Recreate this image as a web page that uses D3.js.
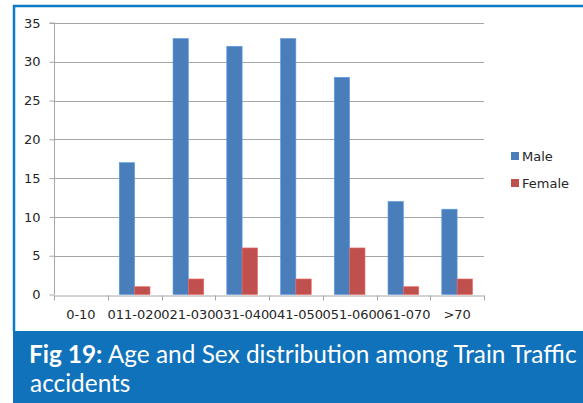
<!DOCTYPE html>
<html><head><meta charset="utf-8">
<script src="https://cdn.jsdelivr.net/npm/d3@7"></script>
<style>html,body{margin:0;padding:0;background:#fff;}svg{display:block;}</style>
</head><body>
<svg id="c" width="583" height="403"></svg>
<script>
const categories = ["0-10","011-020","021-030","031-040","041-050","051-060","061-070",">70"];
const male = [0,17,33,32,33,28,12,11];
const female = [0,1,2,6,2,6,1,2];
const seriesNames = ["Male","Female"];
const colors = ["#4a7ebb","#c0504d"];
const yTicks = [0,5,10,15,20,25,30,35];
const captionBold = "Fig 19:";
const captionLine1 = " Age and Sex distribution among Train Traffic";
const captionLine2 = "accidents";

const svg = d3.select("#c");
const W = 583, H = 403;
const FONT = "'DejaVu Sans',Verdana,sans-serif";
// frame
svg.append("rect").attr("x",14).attr("y",5).attr("width",W-14).attr("height",H-5).attr("fill","#fff");
svg.append("line").attr("x1",13).attr("x2",W).attr("y1",6).attr("y2",6).attr("stroke","#0b7bc4").attr("stroke-width",2.5);
svg.append("line").attr("x1",14).attr("x2",14).attr("y1",5).attr("y2",331).attr("stroke","#0b7bc4").attr("stroke-width",2.5);

const x0 = d3.scaleBand().domain(categories).range([54,484]).paddingInner(0).paddingOuter(0);
const y = d3.scaleLinear().domain([0,35]).range([294.5,23]);

// gridlines
svg.append("g").selectAll("line").data(yTicks.filter(d=>d>0)).join("line")
  .attr("x1",54).attr("x2",484).attr("y1",d=>Math.round(y(d))+0.5).attr("y2",d=>Math.round(y(d))+0.5)
  .attr("stroke","#a6a6a6").attr("stroke-width",1);

// y axis
const yAxis = d3.axisLeft(y).tickValues(yTicks).tickSize(5).tickPadding(9).tickFormat(d3.format("d"));
const gy = svg.append("g").attr("transform","translate(54.5,0)").call(yAxis);
gy.select(".domain").attr("stroke","#a6a6a6").attr("d","M-5,"+y(35)+"H0V"+y(0));
gy.selectAll(".tick line").attr("stroke","#a6a6a6");
gy.selectAll("text").attr("font-family",FONT).attr("font-size","13px").attr("fill","#262626");

// x axis
const xAxis = d3.axisBottom(x0).tickSize(0).tickPadding(14);
const gx = svg.append("g").attr("transform","translate(0,"+(Math.round(y(0))+0.5)+")").call(xAxis);
gx.select(".domain").attr("stroke","#a6a6a6");
gx.selectAll("text").attr("font-family",FONT).attr("font-size","13px").attr("fill","#262626");
const bounds = categories.map(c=>x0(c)).concat([x0.range()[1]]);
gx.append("g").selectAll("line").data(bounds).join("line")
  .attr("x1",d=>Math.round(d)+0.5).attr("x2",d=>Math.round(d)+0.5).attr("y1",0).attr("y2",5).attr("stroke","#a6a6a6");

// bars
const bw = x0.bandwidth()/3.5;
const x1 = d3.scaleBand().domain(seriesNames).range([0.75*bw, 2.75*bw]).padding(0);
const data = categories.map((c,i)=>({c, vals:[male[i],female[i]]}));
const g = svg.append("g");
g.selectAll("g").data(data).join("g").attr("transform",d=>"translate("+x0(d.c)+",0)")
 .selectAll("rect").data(d=>d.vals.map((v,j)=>({v,j}))).join("rect")
 .attr("x",d=>x1(seriesNames[d.j])).attr("width",x1.bandwidth())
 .attr("y",d=>y(d.v)).attr("height",d=>y(0)-y(d.v))
 .attr("fill",d=>colors[d.j]).attr("stroke",d=>d.v>0?d3.color(colors[d.j]).brighter(0.6):"none").attr("stroke-width",0.6);

// legend
const lg = svg.append("g");
seriesNames.forEach((s,i)=>{
  const yy = 152 + i*27;
  lg.append("rect").attr("x",511).attr("y",yy).attr("width",8).attr("height",8).attr("fill",colors[i]);
  lg.append("text").attr("x",522).attr("y",yy+9).text(s)
    .attr("font-family",FONT).attr("font-size","13px").attr("fill","#262626");
});

// caption band
svg.append("rect").attr("x",13).attr("y",331).attr("width",W-13).attr("height",H-331).attr("fill","#1072ba");
const t1 = svg.append("text").attr("x",29).attr("y",363).attr("fill","#fff")
  .attr("font-family","Lato,'Open Sans',sans-serif").attr("font-size","23px");
t1.append("tspan").attr("font-weight","bold").text(captionBold);
t1.append("tspan").text(captionLine1);
const target = 577-29;
const len = t1.node().getComputedTextLength();
const fs = 23*target/len;
t1.attr("font-size",fs+"px");
svg.append("text").attr("x",30).attr("y",392).attr("fill","#fff")
  .attr("font-family","Lato,'Open Sans',sans-serif").attr("font-size",fs+"px").text(captionLine2);
</script>
</body></html>
